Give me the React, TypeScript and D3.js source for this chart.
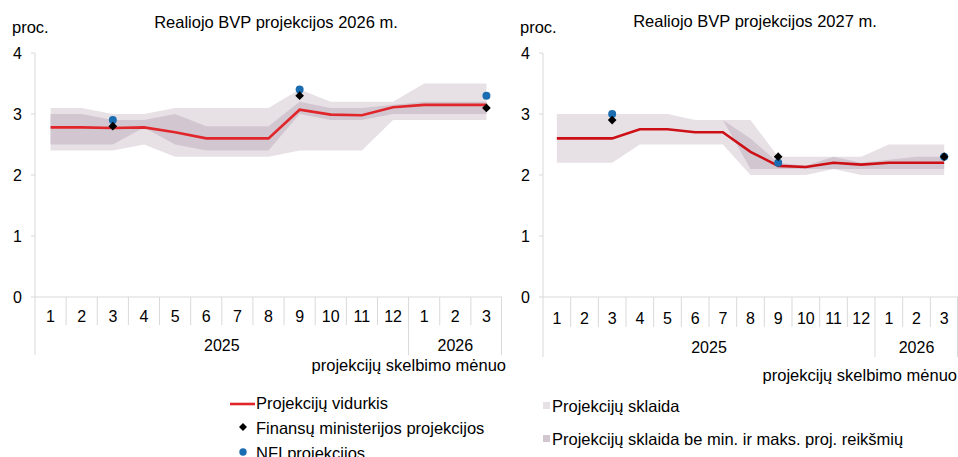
import React from "react";
import * as d3 from "d3";

const months = ["1", "2", "3", "4", "5", "6", "7", "8", "9", "10", "11", "12", "1", "2", "3"];
const years = [
  { label: "2025", count: 12 },
  { label: "2026", count: 3 },
];
const yTicks = [0, 1, 2, 3, 4];

// 2026 projections
const mean26 = [2.78, 2.78, 2.77, 2.78, 2.7, 2.6, 2.6, 2.6, 3.07, 2.99, 2.98, 3.11, 3.15, 3.15, 3.15];
const min26 = [2.4, 2.4, 2.4, 2.5, 2.3, 2.3, 2.3, 2.3, 2.4, 2.4, 2.4, 2.9, 2.9, 2.9, 2.9];
const max26 = [3.1, 3.1, 3.0, 3.0, 3.1, 3.1, 3.1, 3.1, 3.4, 3.2, 3.2, 3.2, 3.5, 3.5, 3.5];
const innerLo26 = [2.5, 2.5, 2.5, 2.78, 2.5, 2.4, 2.4, 2.4, 3.0, 2.9, 2.9, 3.0, 3.0, 3.0, 3.0];
const innerHi26 = [3.0, 3.0, 2.9, 2.9, 3.0, 2.8, 2.8, 2.8, 3.2, 3.1, 3.1, 3.15, 3.2, 3.2, 3.2];
const fin26 = [null, null, 2.8, null, null, null, null, null, 3.3, null, null, null, null, null, 3.1];
const nfi26 = [null, null, 2.9, null, null, null, null, null, 3.4, null, null, null, null, null, 3.3];

// 2027 projections
const mean27 = [2.6, 2.6, 2.6, 2.75, 2.75, 2.7, 2.7, 2.38, 2.15, 2.13, 2.2, 2.17, 2.2, 2.2, 2.2];
const min27 = [2.2, 2.2, 2.2, 2.5, 2.5, 2.5, 2.5, 2.0, 2.0, 2.0, 2.1, 2.0, 2.0, 2.0, 2.0];
const max27 = [3.0, 3.0, 3.0, 3.0, 3.0, 2.9, 2.9, 2.9, 2.3, 2.3, 2.3, 2.3, 2.5, 2.5, 2.5];
const innerLo27 = [null, null, null, null, null, null, 2.9, 2.1, 2.1, 2.1, 2.1, 2.1, 2.1, 2.1, 2.1];
const innerHi27 = [null, null, null, null, null, null, 2.9, 2.6, 2.2, 2.15, 2.3, 2.2, 2.25, 2.3, 2.3];
const fin27 = [null, null, 2.9, null, null, null, null, null, 2.3, null, null, null, null, null, 2.3];
const nfi27 = [null, null, 3.0, null, null, null, null, null, 2.2, null, null, null, null, null, 2.3];

const FONT = "'Liberation Sans', Arial, sans-serif";
const LIGHT = "#e7e1e6";
const DARK = "#d2c7d1";
const BLUE = "#1b6db1";
const AXIS = "#d9d9d9";

type PanelProps = {
  title: string;
  titleX: number;
  titleY: number;
  x0: number;
  x1: number;
  mean: number[];
  min: number[];
  max: number[];
  lo: (number | null)[];
  hi: (number | null)[];
  fin: (number | null)[];
  nfi: (number | null)[];
  red: string;
  monthY: number;
  yearY: number;
  tickBottom: number;
  yearBottom: number;
  unitLabelY: number;
  unitLabelX: number;
};

function Panel(p: PanelProps) {
  const yTop = 53;
  const yBot = 297;
  const x = d3.scaleBand<number>().domain(d3.range(months.length)).range([p.x0, p.x1]).padding(0);
  const y = d3.scaleLinear().domain([0, 4]).range([yBot, yTop]);
  const cx = (i: number) => (x(i) as number) + x.bandwidth() / 2;

  const outer = d3
    .area<number>()
    .x((_, i) => cx(i))
    .y0((_, i) => y(p.min[i]))
    .y1((_, i) => y(p.max[i]));
  const inner = d3
    .area<number | null>()
    .defined((_, i) => p.lo[i] != null && p.hi[i] != null)
    .x((_, i) => cx(i))
    .y0((_, i) => y(p.lo[i] as number))
    .y1((_, i) => y(p.hi[i] as number));
  const line = d3
    .line<number>()
    .x((_, i) => cx(i))
    .y((d) => y(d));

  let acc = 0;
  const yearSpans = years.map((yr) => {
    const s = acc;
    acc += yr.count;
    return { ...yr, start: s, end: acc };
  });
  const bw = x.bandwidth();

  return (
    <g fontFamily={FONT} fill="#000">
      <text x={p.titleX} y={p.titleY} textAnchor="middle" fontSize={16.5}>
        {p.title}
      </text>
      <text x={p.x0 - 23} y={33} fontSize={16.5}>
        proc.
      </text>
      {/* y axis */}
      <line x1={p.x0} x2={p.x0} y1={yTop} y2={p.yearBottom} stroke={AXIS} />
      {yTicks.map((t) => (
        <g key={t}>
          <line x1={p.x0 - 4} x2={p.x0} y1={y(t)} y2={y(t)} stroke={AXIS} />
          <text x={p.x0 - 13} y={y(t) + 5.5} textAnchor="end" fontSize={16}>
            {t}
          </text>
        </g>
      ))}
      {/* x axis */}
      <line x1={p.x0} x2={p.x1} y1={yBot} y2={yBot} stroke={AXIS} />
      {months.map((m, i) => (
        <g key={i}>
          {i > 0 && (
            <line
              x1={x(i) as number}
              x2={x(i) as number}
              y1={yBot}
              y2={yearSpans.some((s) => s.start === i) ? p.yearBottom : p.tickBottom}
              stroke={AXIS}
            />
          )}
          <text x={cx(i)} y={p.monthY} textAnchor="middle" fontSize={16}>
            {m}
          </text>
        </g>
      ))}
      <line x1={p.x1 - 0.5} x2={p.x1 - 0.5} y1={yBot} y2={p.yearBottom} stroke={AXIS} />
      {yearSpans.map((s) => (
        <text
          key={s.label}
          x={(x(s.start) as number) + ((s.end - s.start) * bw) / 2}
          y={p.yearY}
          textAnchor="middle"
          fontSize={16}
        >
          {s.label}
        </text>
      ))}
      <text x={p.unitLabelX} y={p.unitLabelY} textAnchor="end" fontSize={16.5}>
        projekcijų skelbimo mėnuo
      </text>
      {/* bands */}
      <path d={outer(p.mean) || ""} fill={LIGHT} />
      <path d={inner(p.lo) || ""} fill={DARK} />
      <path d={line(p.mean) || ""} fill="none" stroke={p.red} strokeWidth={2.6} />
      {p.nfi.map((v, i) =>
        v == null ? null : <circle key={"n" + i} cx={cx(i)} cy={y(v)} r={4} fill={BLUE} />
      )}
      {p.fin.map((v, i) =>
        v == null ? null : (
          <path
            key={"f" + i}
            d={d3.symbol().type(d3.symbolDiamond2).size(48)() || ""}
            transform={`translate(${cx(i)},${y(v)})`}
            fill="#000"
          />
        )
      )}
    </g>
  );
}

export default function App() {
  return (
    <svg width={958} height={457} style={{ display: "block", position: "absolute", left: 0, top: 0 }}>
      <rect width={958} height={457} fill="#fff" />
      <Panel
        title="Realiojo BVP projekcijos 2026 m."
        titleX={276}
        titleY={28}
        x0={35}
        x1={502}
        mean={mean26}
        min={min26}
        max={max26}
        lo={innerLo26}
        hi={innerHi26}
        fin={fin26}
        nfi={nfi26}
        red="#e0262b"
        monthY={322}
        yearY={351}
        tickBottom={325}
        yearBottom={355}
        unitLabelX={506}
        unitLabelY={371}
      />
      <Panel
        title="Realiojo BVP projekcijos 2027 m."
        titleX={755}
        titleY={27}
        x0={543}
        x1={958}
        mean={mean27}
        min={min27}
        max={max27}
        lo={innerLo27}
        hi={innerHi27}
        fin={fin27}
        nfi={nfi27}
        red="#cc1016"
        monthY={324}
        yearY={353}
        tickBottom={327}
        yearBottom={357}
        unitLabelX={957}
        unitLabelY={381}
      />
      {/* left legend */}
      <g fontFamily={FONT} fontSize={16.5}>
        <line x1={230} x2={255} y1={404} y2={404} stroke="#e0262b" strokeWidth={2.6} />
        <text x={256} y={409}>Projekcijų vidurkis</text>
        <path
          d={d3.symbol().type(d3.symbolDiamond2).size(40)() || ""}
          transform="translate(243,427)"
          fill="#000"
        />
        <text x={256} y={434}>Finansų ministerijos projekcijos</text>
        <circle cx={243} cy={452} r={3.7} fill={BLUE} />
        <text x={256} y={459}>NFI projekcijos</text>
        {/* right legend */}
        <rect x={543} y={402} width={7} height={7} fill={LIGHT} />
        <text x={552} y={412}>Projekcijų sklaida</text>
        <rect x={543} y={435} width={7} height={7} fill={DARK} />
        <text x={552} y={445}>Projekcijų sklaida be min. ir maks. proj. reikšmių</text>
      </g>
    </svg>
  );
}
